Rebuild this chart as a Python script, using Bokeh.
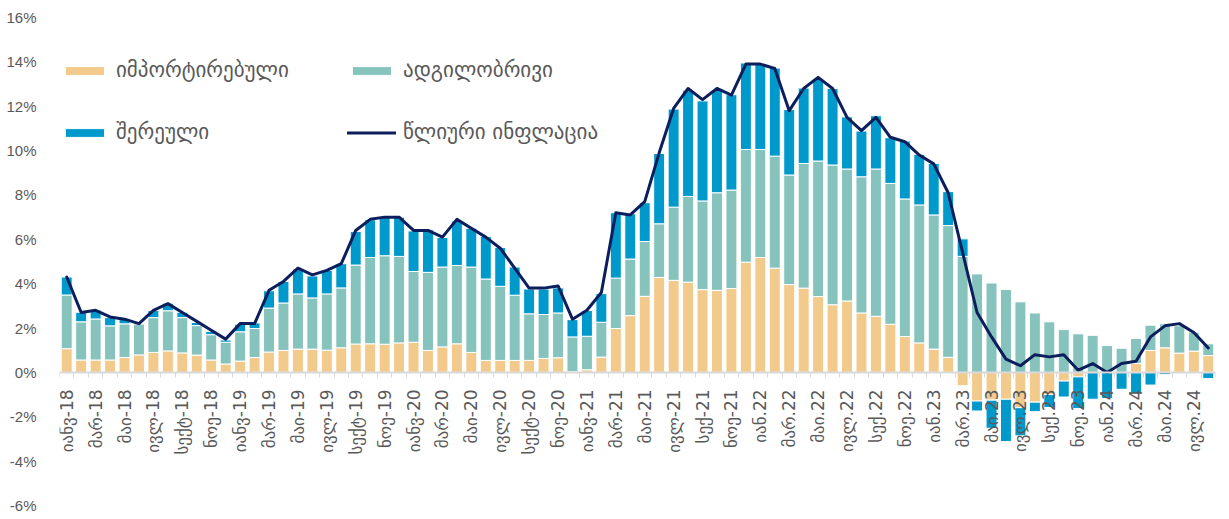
from math import pi
from bokeh.plotting import figure
from bokeh.models import ColumnDataSource, Range1d, FixedTicker, Legend, LegendItem
from bokeh.embed import file_html
from bokeh.resources import INLINE

# ---- data (contributions to annual inflation, percentage points) ----
imported = [1.07, 0.56, 0.56, 0.56, 0.67, 0.79, 0.90, 0.97, 0.88, 0.78, 0.56, 0.38,
            0.51, 0.67, 0.92, 0.99, 1.05, 1.05, 1.00, 1.11, 1.28, 1.29, 1.27, 1.33,
            1.36, 0.99, 1.15, 1.29, 0.90, 0.54, 0.54, 0.54, 0.54, 0.63, 0.66, 0.03,
            0.12, 0.69, 1.98, 2.56, 3.43, 4.28, 4.15, 4.07, 3.73, 3.70, 3.78, 4.97,
            5.18, 4.70, 3.96, 3.80, 3.42, 3.05, 3.22, 2.68, 2.53, 2.17, 1.62, 1.33,
            1.05, 0.68, -0.60, -1.29, -1.25, -1.21, -1.59, -1.34, -1.00, -0.39, -0.20, 0.00,
            0.00, 0.00, 0.40, 0.99, 1.11, 0.87, 0.96, 0.76]
local = [2.42, 1.72, 1.85, 1.54, 1.52, 1.40, 1.57, 1.81, 1.59, 1.33, 1.14, 0.98,
         1.32, 1.31, 1.98, 2.14, 2.49, 2.31, 2.54, 2.70, 3.56, 3.89, 3.99, 3.90,
         3.19, 3.52, 3.60, 3.53, 3.85, 3.67, 3.34, 2.94, 2.10, 1.98, 2.02, 1.57,
         1.51, 1.57, 2.27, 2.55, 2.47, 2.42, 3.30, 3.86, 4.00, 4.40, 4.44, 5.08,
         4.87, 5.05, 4.94, 5.62, 6.11, 6.30, 5.95, 6.14, 6.64, 6.35, 6.20, 6.22,
         6.05, 5.94, 5.23, 4.44, 4.03, 3.74, 3.18, 2.68, 2.28, 1.93, 1.74, 1.67,
         1.21, 1.09, 1.13, 1.14, 1.08, 1.24, 0.87, 0.53]
mixed = [0.81, 0.43, 0.40, 0.37, 0.23, 0.02, 0.32, 0.34, 0.24, 0.14, 0.15, 0.10,
         0.34, 0.25, 0.78, 0.97, 1.12, 0.99, 1.06, 1.09, 1.51, 1.70, 1.77, 1.77,
         1.83, 1.92, 1.33, 2.01, 1.75, 1.92, 1.75, 1.27, 1.12, 1.15, 1.13, 0.78,
         1.16, 1.29, 2.95, 2.04, 1.75, 3.17, 4.42, 4.79, 4.51, 4.62, 4.30, 3.90,
         3.87, 3.97, 2.95, 3.40, 3.71, 3.45, 2.35, 2.06, 2.40, 2.06, 2.61, 2.28,
         2.32, 1.53, 0.79, -0.45, -1.27, -1.91, -1.27, -0.43, -0.58, -0.72, -1.43, -1.21,
         -1.18, -0.76, -0.96, -0.57, -0.10, 0.00, 0.00, -0.28]
annual = [4.3, 2.7, 2.8, 2.5, 2.4, 2.2, 2.8, 3.1, 2.7, 2.3, 1.9, 1.5,
          2.2, 2.2, 3.7, 4.1, 4.7, 4.4, 4.6, 4.9, 6.4, 6.9, 7.0, 7.0,
          6.4, 6.4, 6.1, 6.9, 6.5, 6.1, 5.6, 4.7, 3.8, 3.8, 3.9, 2.4,
          2.8, 3.6, 7.2, 7.1, 7.7, 9.9, 11.9, 12.8, 12.3, 12.8, 12.5, 13.9,
          13.9, 13.7, 11.8, 12.8, 13.3, 12.8, 11.5, 10.9, 11.5, 10.6, 10.4, 9.8,
          9.4, 8.1, 5.4, 2.7, 1.6, 0.6, 0.3, 0.8, 0.7, 0.8, 0.1, 0.4,
          0.0, 0.4, 0.5, 1.6, 2.1, 2.2, 1.8, 1.1]
tick_labels = ["იანვ-18", "მარ-18", "მაი-18", "ივლ-18", "სექტ-18", "ნოე-18",
               "იანვ-19", "მარ-19", "მაი-19", "ივლ-19", "სექტ-19", "ნოე-19",
               "იანვ-20", "მარ-20", "მაი-20", "ივლ-20", "სექტ-20", "ნოე-20",
               "იანვ-21", "მარ-21", "მაი-21", "ივლ-21", "სექ-21", "ნოე-21",
               "იან.22", "მარ.22", "მაი.22", "ივლ.22", "სექ.22", "ნოე.22",
               "იან.23", "მარ.23", "მაი.23", "ივლ.23", "სექ.23", "ნოე.23",
               "იან.24", "მარ.24", "მაი.24", "ივლ.24"]
y_ticks = [-6, -4, -2, 0, 2, 4, 6, 8, 10, 12, 14, 16]
series_names = ["იმპორტირებული", "ადგილობრივი", "შერეული"]
line_name = "წლიური ინფლაცია"
colors = ["#F2CA8C", "#86C3BD", "#0099CB"]
line_color = "#0C1F5C"

n = len(imported)
xs = list(range(n))

p = figure(width=1229, height=519, x_range=Range1d(-0.5, n - 0.5), y_range=Range1d(-6, 16),
           output_backend="svg", toolbar_location=None,
           min_border_left=59, min_border_right=14, min_border_top=17, min_border_bottom=14)
p.xgrid.visible = False
p.ygrid.visible = False
p.outline_line_color = None
p.background_fill_color = "white"

pos = [0.0] * n
neg = [0.0] * n
bar_renderers = []
for name, vals, col in zip(series_names, [imported, local, mixed], colors):
    bottoms, tops = [], []
    for i, v in enumerate(vals):
        if v >= 0:
            bottoms.append(pos[i]); tops.append(pos[i] + v); pos[i] += v
        else:
            bottoms.append(neg[i]); tops.append(neg[i] + v); neg[i] += v
    src = ColumnDataSource(dict(x=xs, bottom=bottoms, top=tops))
    r = p.vbar(x="x", bottom="bottom", top="top", width=0.76, source=src,
               fill_color=col, line_color="white", line_width=1, level="underlay")
    bar_renderers.append(r)

r_line = p.line(xs, annual, line_width=3, line_color=line_color, line_join="round", line_cap="round")

# x axis at zero
xa = p.xaxis[0]
xa.fixed_location = 0
xa.ticker = FixedTicker(ticks=list(range(0, n, 2)), minor_ticks=[i - 0.5 for i in range(n + 1)])
xa.major_label_overrides = {i: lab for i, lab in zip(range(0, n, 2), tick_labels)}
xa.major_label_orientation = pi / 2
xa.major_tick_line_color = None
xa.minor_tick_out = 5
xa.minor_tick_in = 0
xa.minor_tick_line_color = "#D9D9D9"
xa.minor_tick_line_width = 1
xa.axis_line_color = "#D9D9D9"
xa.axis_line_width = 2
xa.major_label_text_font = "DejaVu Sans"
xa.major_label_text_font_size = "17px"
xa.major_label_text_color = "#595959"
xa.major_label_standoff = 11

ya = p.yaxis[0]
ya.ticker = FixedTicker(ticks=y_ticks)
ya.major_label_overrides = {v: f"{v}%" for v in y_ticks}
ya.axis_line_color = None
ya.major_tick_line_color = None
ya.minor_tick_line_color = None
ya.major_label_text_font = "Liberation Sans"
ya.major_label_text_font_size = "15px"
ya.major_label_text_color = "#595959"
ya.major_label_standoff = 17

def make_legend(items, loc):
    lg = Legend(items=items, orientation="horizontal", location=loc,
                glyph_width=49, glyph_height=11, label_standoff=7, label_width=231,
                spacing=0, padding=0, margin=0, border_line_color=None,
                background_fill_alpha=0, label_text_font="DejaVu Sans",
                label_text_font_size="21px", label_text_color="#595959")
    return lg

leg1 = make_legend([LegendItem(label=series_names[0], renderers=[bar_renderers[0]]),
                    LegendItem(label=series_names[1], renderers=[bar_renderers[1]])], (1, 423))
leg2 = make_legend([LegendItem(label=series_names[2], renderers=[bar_renderers[2]]),
                    LegendItem(label=line_name, renderers=[r_line])], (1, 361))
p.add_layout(leg1)
p.add_layout(leg2)

open("out.html", "w").write(file_html(p, INLINE))
